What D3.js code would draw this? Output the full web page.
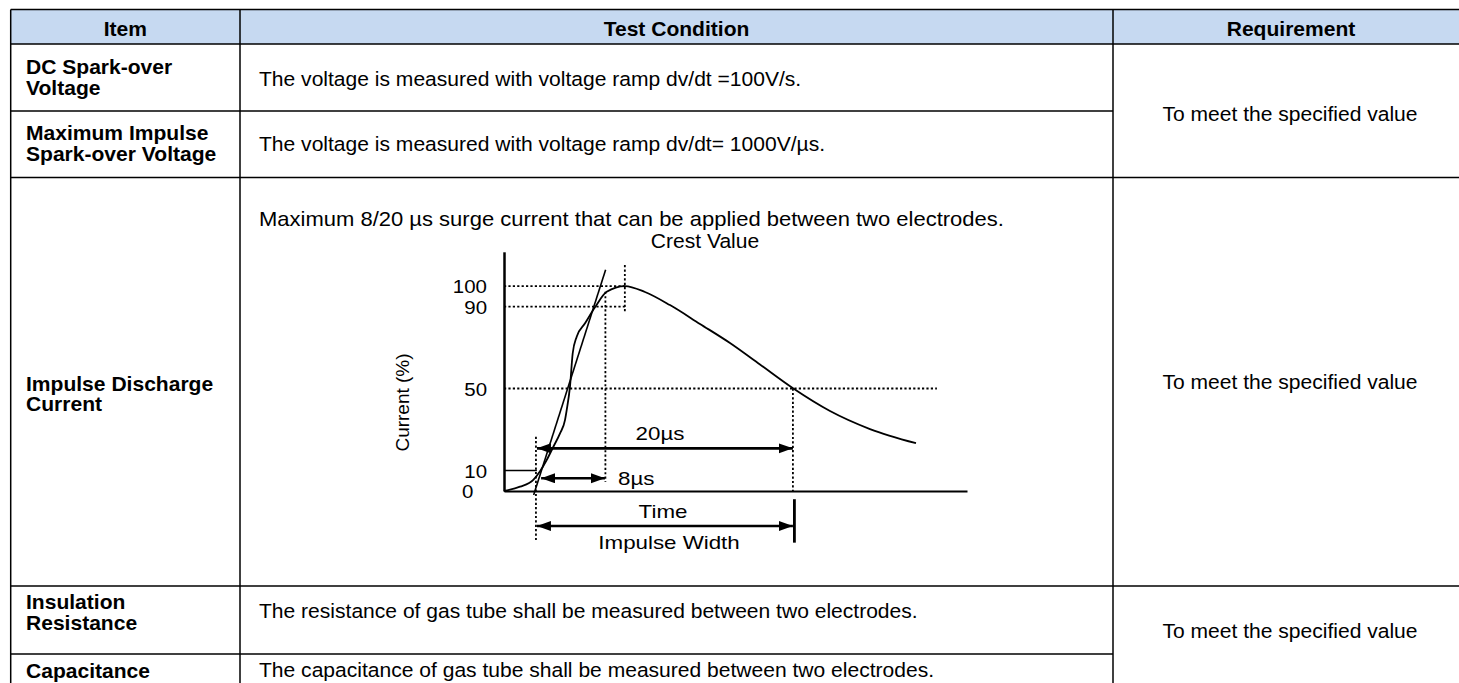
<!DOCTYPE html>
<html>
<head>
<meta charset="utf-8">
<script src="https://cdn.jsdelivr.net/npm/d3@7"></script>
<style>
  body { margin: 0; background: #fff; }
  svg { display: block; font-family: "Liberation Sans", Arial, sans-serif; }
</style>
</head>
<body>
<div id="chart"></div>
<script>
// table content
const headers = ["Item", "Test Condition", "Requirement"]
const items = [
  ["DC Spark-over", "Voltage"],
  ["Maximum Impulse", "Spark-over Voltage"],
  ["Impulse Discharge", "Current"],
  ["Insulation", "Resistance"],
  ["Capacitance"]
]
const conditions = [
  "The voltage is measured with voltage ramp dv/dt =100V/s.",
  "The voltage is measured with voltage ramp dv/dt= 1000V/µs.",
  "Maximum 8/20 µs surge current that can be applied between two electrodes.",
  "The resistance of gas tube shall be measured between two electrodes.",
  "The capacitance of gas tube shall be measured between two electrodes."
]
const requirement = "To meet the specified value"
const crestLabel = "Crest Value"

// impulse waveform (schematic time units, current in %)
const waveTime = [0, 3.46, 6.33, 7.78, 9.22, 10.66, 12.1, 13.17, 13.54, 14.25, 14.84, 15.7, 17.5, 19.65, 22.18, 26.13, 30.45, 35.85, 42.33, 48.81, 55.29, 62.42, 70.41, 79.05, 88.98]
const waveCurrent = [0, 2.1, 5.4, 9.6, 15.1, 21.6, 28.1, 34.6, 39.5, 50.9, 67.2, 75.3, 81.8, 89.6, 97.2, 100, 97.1, 90.7, 81.5, 72.2, 61.7, 50.1, 39.0, 30.2, 23.3]
// straight front line through the 10% and 90% points
const frontTime = [6.4, 21.95]
const frontCurrent = [-2, 108]
const yTicks = [0, 10, 50, 90, 100]
const O1 = 6.9       // virtual origin
const T10 = 7.8      // 10% point
const T1 = 21.9      // front time end
const TCREST = 26.1  // crest
const T2 = 62.4      // 50% on tail
const TAIL_END = 93.5

// layout
const W = 1459, H = 683
const colX = [10.7, 240, 1113, 1469]
const rowY = [9.5, 44, 111, 177.5, 586, 654, 720]
const FS = 19.5, SX = 1.08

const svg = d3.select("#chart").append("svg")
  .attr("width", W)
  .attr("height", H)

function label(sel, x, y, s, o = {}) {
  return sel.append("text")
    .attr("transform", `translate(${x},${y}) scale(${o.sx || SX},1)`)
    .attr("font-size", o.size || FS)
    .attr("font-weight", o.weight || "normal")
    .attr("text-anchor", o.anchor || "start")
    .attr("fill", "#000")
    .text(s)
}

// header band
svg.append("rect")
  .attr("x", colX[0]).attr("y", rowY[0])
  .attr("width", colX[3] - colX[0]).attr("height", rowY[1] - rowY[0])
  .attr("fill", "#c6d9f1")

// grid lines
const grid = svg.append("g").attr("stroke", "#000").attr("stroke-width", 1.5)
const hLines = [
  [rowY[0], colX[3]], [rowY[1], colX[3]], [rowY[2], colX[2]],
  [rowY[3], colX[3]], [rowY[4], colX[3]], [rowY[5], colX[2]]
]
hLines.forEach(([yy, x2]) => {
  grid.append("line").attr("x1", colX[0]).attr("x2", x2).attr("y1", yy).attr("y2", yy)
})
colX.slice(0, 3).forEach(xx => {
  grid.append("line").attr("x1", xx).attr("x2", xx).attr("y1", rowY[0]).attr("y2", H + 5)
})

// header text
headers.forEach((h, i) => {
  label(svg, (colX[i] + colX[i + 1]) / 2, 35.7, h, {weight: "bold", anchor: "middle"})
})

// item column
const itemBase = [74, 140, 390.7, 609, 678]
items.forEach((lines, i) => {
  lines.forEach((l, j) => label(svg, 26, itemBase[i] + j * 20.7, l, {weight: "bold"}))
})

// test condition column
const condBase = [85.7, 150.7, 226, 617.5, 677]
conditions.forEach((c, i) => {
  label(svg, 259, condBase[i], c, i === 2 ? {size: 20, sx: 1.1} : {})
})
label(svg, 705, 247.5, crestLabel, {anchor: "middle"})

// requirement column
;[120.7, 389, 637.5].forEach(b => label(svg, 1290, b, requirement, {anchor: "middle"}))

// ---- waveform diagram ----
const x = d3.scaleLinear().domain([0, 100]).range([504, 967])
const y = d3.scaleLinear().domain([0, 116.7]).range([491, 251.8])

const defs = svg.append("defs")
defs.append("marker")
  .attr("id", "arrow")
  .attr("markerUnits", "userSpaceOnUse")
  .attr("markerWidth", 15).attr("markerHeight", 11)
  .attr("refX", 14).attr("refY", 5)
  .attr("orient", "auto-start-reverse")
  .append("path").attr("d", "M0,0L14,5L0,10Z").attr("fill", "#000")

const fig = svg.append("g")

// dotted guides
const dotted = [
  [0, 100, TCREST, 100],
  [0, 90, TCREST, 90],
  [0, 50, TAIL_END, 50],
  [TCREST, 110.2, TCREST, 86.7],
  [O1, 26.5, O1, -24.7],
  [T1, 97.2, T1, 4.5],
  [T2, 50, T2, 0]
]
fig.selectAll(".dot")
  .data(dotted)
  .enter().append("line")
  .attr("x1", d => x(d[0])).attr("y1", d => y(d[1]))
  .attr("x2", d => x(d[2])).attr("y2", d => y(d[3]))
  .attr("stroke", "#000").attr("stroke-width", 1.8)
  .attr("stroke-dasharray", "2.2,2.2")

// solid 10% marker
fig.append("line")
  .attr("x1", x(0)).attr("x2", x(O1 + 0.2))
  .attr("y1", y(10)).attr("y2", y(10))
  .attr("stroke", "#000").attr("stroke-width", 1.3)

// axes
fig.append("g")
  .attr("transform", `translate(0,${y(0)})`)
  .call(d3.axisBottom(x).tickValues([]).tickSizeOuter(0))
  .call(g => g.select(".domain").attr("stroke-width", 2.2))

const ya = fig.append("g")
  .attr("transform", `translate(${x(0)},0)`)
  .call(d3.axisLeft(y).tickValues(yTicks).tickSize(0).tickSizeOuter(0).tickPadding(0))
ya.select(".domain").attr("stroke-width", 2.5)
ya.selectAll("text")
  .attr("font-size", 18.6)
  .attr("font-family", "Liberation Sans, Arial, sans-serif")
  .attr("fill", "#000")
  .attr("dy", "0.35em")
  .attr("text-anchor", d => d === 0 ? "start" : "end")
  .attr("x", d => d === 0 ? -42 / 1.1 : -17 / 1.1)
  .attr("transform", "scale(1.1,1)")

fig.append("text")
  .attr("transform", `translate(408.7,402.5) rotate(-90)`)
  .attr("text-anchor", "middle")
  .attr("font-size", 19)
  .text("Current (%)")

// waveform
const wave = waveTime.map((t, i) => [t, waveCurrent[i]])
fig.append("path")
  .datum(wave)
  .attr("fill", "none").attr("stroke", "#000").attr("stroke-width", 1.8)
  .attr("d", d3.line().x(d => x(d[0])).y(d => y(d[1])).curve(d3.curveMonotoneX))

fig.append("path")
  .datum(frontTime.map((t, i) => [t, frontCurrent[i]]))
  .attr("fill", "none").attr("stroke", "#000").attr("stroke-width", 1.6)
  .attr("d", d3.line().x(d => x(d[0])).y(d => y(d[1])))

// arrows
const arrows = [
  [O1, T2, 20.8],
  [T10, T1 - 0.1, 6.2],
  [O1, T2, -17.1]
]
fig.selectAll(".arr")
  .data(arrows)
  .enter().append("line")
  .attr("x1", d => x(d[0]) + 1).attr("x2", d => x(d[1]))
  .attr("y1", d => y(d[2])).attr("y2", d => y(d[2]))
  .attr("stroke", "#000").attr("stroke-width", 2.6)
  .attr("marker-start", "url(#arrow)").attr("marker-end", "url(#arrow)")

// impulse width end bar
fig.append("line")
  .attr("x1", x(T2) + 1.5).attr("x2", x(T2) + 1.5)
  .attr("y1", y(-4)).attr("y2", y(-25.2))
  .attr("stroke", "#000").attr("stroke-width", 2.8)

const lab = {size: 18.6, sx: 1.2}
label(fig, 660, 440, "20µs", {...lab, anchor: "middle"})
label(fig, 618, 485, "8µs", lab)
label(fig, 663, 518, "Time", {...lab, anchor: "middle"})
label(fig, 669, 548.5, "Impulse Width", {...lab, anchor: "middle"})
</script>
</body>
</html>
